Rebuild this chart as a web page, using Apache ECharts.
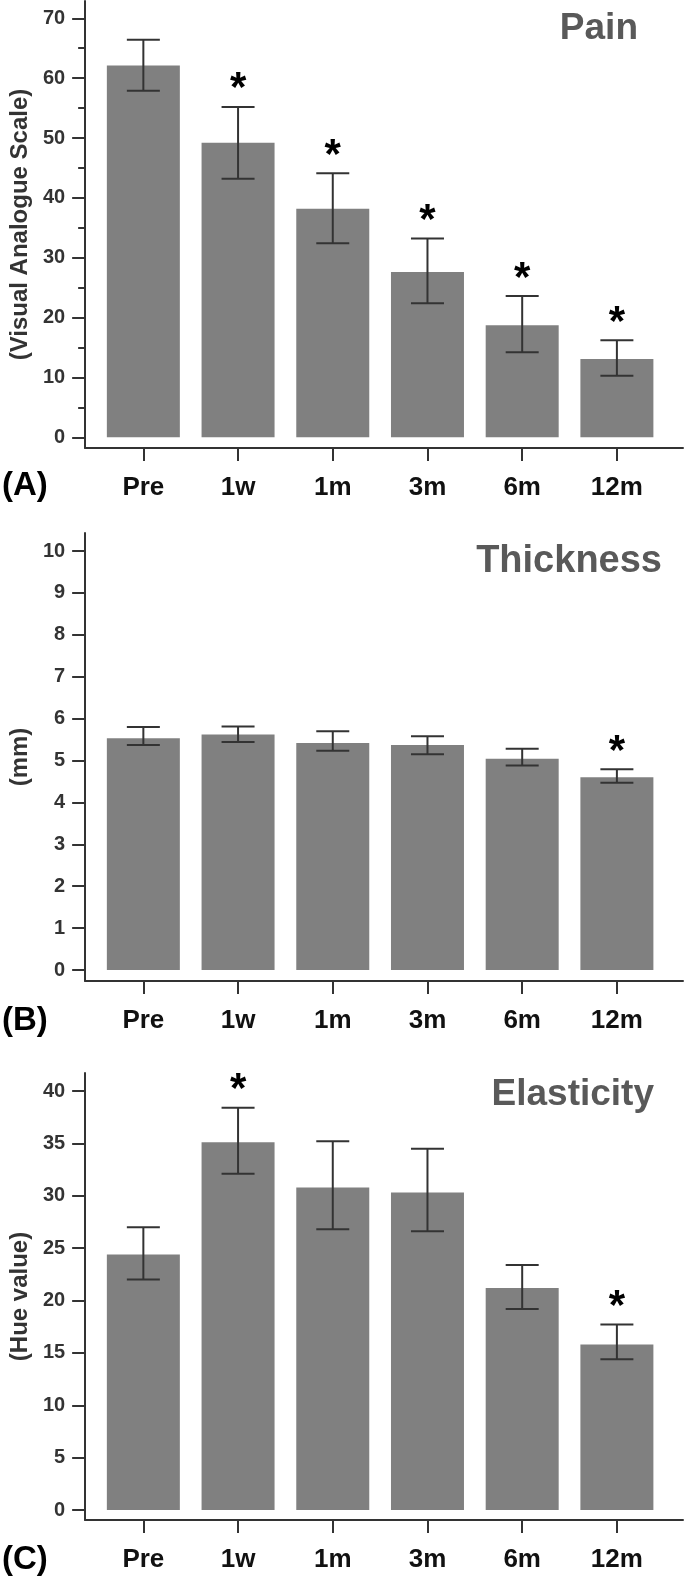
<!DOCTYPE html>
<html><head><meta charset="utf-8">
<script src="https://cdn.jsdelivr.net/npm/echarts@6/dist/echarts.min.js"></script>
<style>html,body{margin:0;padding:0;background:#fff}#c{width:685px;height:1576px}</style>
</head><body><div id="c"></div>
<script>
// ---- data ----
const categories = ['Pre', '1w', '1m', '3m', '6m', '12m'];

const painMean = [62.1, 49.2, 38.2, 27.6, 18.7, 13.1];
const painLow  = [57.9, 43.2, 32.4, 22.4, 14.2, 10.3];
const painHigh = [66.4, 55.2, 44.1, 33.2, 23.6, 16.2];
const painSig  = [0, 1, 1, 1, 1, 1];

const thickMean = [5.53, 5.62, 5.42, 5.37, 5.04, 4.60];
const thickLow  = [5.37, 5.44, 5.23, 5.15, 4.88, 4.47];
const thickHigh = [5.80, 5.81, 5.70, 5.58, 5.28, 4.79];
const thickSig  = [0, 0, 0, 0, 0, 1];

const elasMean = [24.4, 35.1, 30.8, 30.3, 21.2, 15.8];
const elasLow  = [22.0, 32.1, 26.8, 26.6, 19.2, 14.4];
const elasHigh = [27.0, 38.4, 35.2, 34.5, 23.4, 17.7];
const elasSig  = [0, 1, 0, 0, 0, 1];

const painTicks = [0, 10, 20, 30, 40, 50, 60, 70];
const painMinorTicks = [5, 15, 25, 35, 45, 55, 65];
const thickTicks = [0, 1, 2, 3, 4, 5, 6, 7, 8, 9, 10];
const elasTicks = [0, 5, 10, 15, 20, 25, 30, 35, 40];

const panelTitles = ['Pain', 'Thickness', 'Elasticity'];
const panelLetters = ['(A)', '(B)', '(C)'];
const axisNames = ['(Visual Analogue Scale)', '(mm)', '(Hue value)'];

// ---- layout / style ----
const FONT = '"Liberation Sans", Arial, sans-serif';
const AX = '#333';
const panels = [
  {mean: painMean, low: painLow, high: painHigh, sig: painSig, ticks: painTicks, minor: painMinorTicks,
   top: 1, height: 447, min: -1.79, max: 72.89, titleRight: 47, titleTop: 10, titleSize: 37, letterTop: 469},
  {mean: thickMean, low: thickLow, high: thickHigh, sig: thickSig, ticks: thickTicks, minor: null,
   top: 533, height: 448, min: -0.2625, max: 10.43, titleRight: 23, titleTop: 543, titleSize: 38, letterTop: 1004},
  {mean: elasMean, low: elasLow, high: elasHigh, sig: elasSig, ticks: elasTicks, minor: null,
   top: 1073, height: 447, min: -0.955, max: 41.72, titleRight: 31, titleTop: 1076, titleSize: 37, letterTop: 1543}
];
const catIdx = categories.map((c, i) => i);

const grid = [], xAxis = [], yAxis = [], series = [], title = [];

function errRender(params, api) {
  const x = api.value(0);
  const lo = api.coord([x, api.value(1)]);
  const hi = api.coord([x, api.value(2)]);
  const w = 16.5;
  const st = {stroke: '#333', lineWidth: 2};
  return {type: 'group', children: [
    {type: 'line', shape: {x1: hi[0], y1: hi[1], x2: lo[0], y2: lo[1]}, style: st},
    {type: 'line', shape: {x1: hi[0] - w, y1: hi[1], x2: hi[0] + w, y2: hi[1]}, style: st},
    {type: 'line', shape: {x1: lo[0] - w, y1: lo[1], x2: lo[0] + w, y2: lo[1]}, style: st}
  ]};
}
function starRender(params, api) {
  const p = api.coord([api.value(0), api.value(1)]);
  return {type: 'text', x: p[0], y: p[1] - 17,
    style: {text: '*', fontSize: 42, fontWeight: 'bold', fontFamily: FONT, fill: '#000',
            align: 'center', verticalAlign: 'middle'}};
}

panels.forEach((p, k) => {
  grid.push({left: 77, right: 2, top: p.top, height: p.height});
  xAxis.push({
    type: 'value', gridIndex: k, min: -0.6146, max: 5.698,
    axisLine: {show: true, onZero: false, lineStyle: {color: AX, width: 2}},
    axisTick: {show: true, customValues: catIdx, length: 13, lineStyle: {color: AX, width: 2}},
    axisLabel: {show: true, customValues: catIdx, formatter: v => categories[Math.round(v)],
                fontSize: 26, fontWeight: 'bold', fontFamily: FONT, color: '#111', margin: 27},
    splitLine: {show: false}
  });
  const yMain = yAxis.length;
  yAxis.push({
    type: 'value', gridIndex: k, position: 'left', min: p.min, max: p.max,
    axisLine: {show: true, onZero: false, lineStyle: {color: AX, width: 2}},
    axisTick: {show: true, customValues: p.ticks, length: 13, lineStyle: {color: AX, width: 2}},
    axisLabel: {show: true, customValues: p.ticks, fontSize: 20, fontWeight: 'bold', fontFamily: FONT,
                color: AX, margin: 20},
    splitLine: {show: false},
    name: axisNames[k], nameLocation: 'middle', nameGap: 48,
    nameTextStyle: {fontSize: 24, fontWeight: 'bold', fontFamily: FONT, color: AX}
  });
  if (p.minor) {
    yAxis.push({
      type: 'value', gridIndex: k, position: 'left', offset: 0, min: p.min, max: p.max,
      axisLine: {show: false, onZero: false},
      axisTick: {show: true, customValues: p.minor, length: 7, lineStyle: {color: AX, width: 2}},
      axisLabel: {show: false}, splitLine: {show: false}
    });
  }
  series.push({
    type: 'bar', xAxisIndex: k, yAxisIndex: yMain, barWidth: 73, z: 2,
    itemStyle: {color: '#808080'},
    data: p.mean.map((v, i) => [i, v])
  });
  series.push({
    type: 'custom', xAxisIndex: k, yAxisIndex: yMain, renderItem: errRender, z: 5,
    data: p.mean.map((v, i) => [i, p.low[i], p.high[i]])
  });
  series.push({
    type: 'custom', xAxisIndex: k, yAxisIndex: yMain, renderItem: starRender, z: 5,
    data: p.high.map((v, i) => [i, v]).filter((d, i) => p.sig[i])
  });
  title.push({text: panelTitles[k], right: p.titleRight, top: p.titleTop, padding: 0,
    textStyle: {fontSize: p.titleSize, fontWeight: 'bold', fontFamily: FONT, color: '#595959'}});
  title.push({text: panelLetters[k], left: 2, top: p.letterTop, padding: 0,
    textStyle: {fontSize: 33, fontWeight: 'bold', fontFamily: FONT, color: '#000'}});
});

const chart = echarts.init(document.getElementById('c'), null, {renderer: 'canvas'});
chart.setOption({animation: false, backgroundColor: '#fff', title, grid, xAxis, yAxis, series});
</script>
</body></html>
